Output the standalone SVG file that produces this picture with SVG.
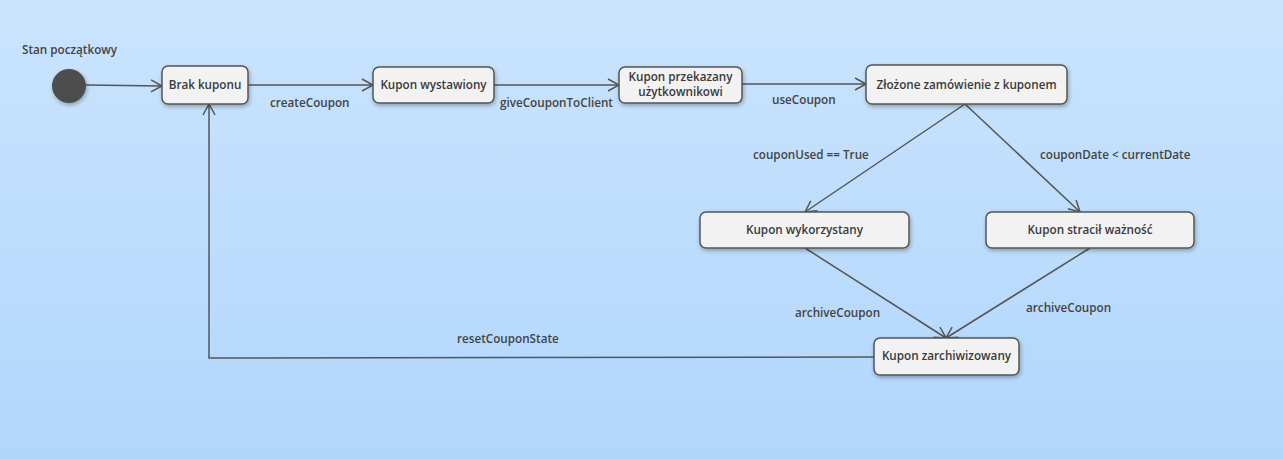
<svg xmlns="http://www.w3.org/2000/svg" width="1283" height="459" viewBox="0 0 1283 459">
<defs>
<linearGradient id="bg" x1="0" y1="0" x2="0" y2="1">
<stop offset="0" stop-color="#cae4fd"/>
<stop offset="1" stop-color="#b1d6fc"/>
</linearGradient>
<filter id="sh" x="-20%" y="-30%" width="140%" height="160%">
<feGaussianBlur in="SourceAlpha" stdDeviation="2"/>
<feOffset dx="1" dy="2" result="b"/>
<feComponentTransfer><feFuncA type="linear" slope="0.3"/></feComponentTransfer>
<feMerge><feMergeNode/><feMergeNode in="SourceGraphic"/></feMerge>
</filter>
<marker id="arr" markerWidth="14" markerHeight="14" refX="12" refY="7" orient="auto" markerUnits="userSpaceOnUse">
<path d="M1,1 L12,7 L1,13" fill="none" stroke="#555" stroke-width="1.5"/>
</marker>
</defs>
<style>
.node rect{fill:#f2f2f2;stroke:#555;stroke-width:1.5;filter:url(#sh)}
.t{font-family:"Open Sans","Noto Sans",sans-serif;font-size:11.7px;font-weight:600;fill:#3a3a3a;text-anchor:middle}
.lbl{font-family:"Open Sans","Noto Sans",sans-serif;font-size:11.7px;font-weight:600;fill:#444}
.edge{fill:none;stroke:#555;stroke-width:1.5;marker-end:url(#arr)}
</style>
<rect width="1283" height="459" fill="url(#bg)"/>
<g id="connectors">
<path class="edge" d="M86,85 L162,86"/>
<path class="edge" d="M248,85 L373,85"/>
<path class="edge" d="M494,85 L619,85"/>
<path class="edge" d="M742,84 L866,84"/>
<path class="edge" d="M965,104 L805,212"/>
<path class="edge" d="M965,104 L1080,212"/>
<path class="edge" d="M805,248 L946,338"/>
<path class="edge" d="M1090,248 L946,338"/>
<path class="edge" d="M874,357 L209,358 L209,104"/>
<text class="lbl" x="270" y="107">createCoupon</text>
<text class="lbl" x="500" y="107">giveCouponToClient</text>
<text class="lbl" x="772" y="104">useCoupon</text>
<text class="lbl" x="753" y="159">couponUsed == True</text>
<text class="lbl" x="1040" y="159">couponDate &lt; currentDate</text>
<text class="lbl" x="795" y="317">archiveCoupon</text>
<text class="lbl" x="1026" y="312">archiveCoupon</text>
<text class="lbl" x="457" y="343">resetCouponState</text>
</g>
<g id="start">
<text class="lbl" x="22" y="54">Stan początkowy</text>
<circle cx="69" cy="86" r="17" fill="#4d4d4d" filter="url(#sh)"/>
</g>
<g id="brak" class="node"><rect x="162" y="66" width="86" height="38" rx="6"/><text class="t" x="205" y="89">Brak kuponu</text></g>
<g id="wystawiony" class="node"><rect x="373" y="67" width="121" height="36" rx="6"/><text class="t" x="433.5" y="89">Kupon wystawiony</text></g>
<g id="przekazany" class="node"><rect x="619" y="67" width="123" height="36" rx="6"/><text class="t" x="680.5" y="81">Kupon przekazany</text><text class="t" x="680.5" y="96">użytkownikowi</text></g>
<g id="zlozone" class="node"><rect x="866" y="65" width="201" height="39" rx="6"/><text class="t" x="966.5" y="89">Złożone zamówienie z kuponem</text></g>
<g id="wykorzystany" class="node"><rect x="700" y="212" width="209" height="36" rx="6"/><text class="t" x="804.5" y="234">Kupon wykorzystany</text></g>
<g id="stracil" class="node"><rect x="986" y="212" width="208" height="36" rx="6"/><text class="t" x="1090" y="234">Kupon stracił ważność</text></g>
<g id="zarchiwizowany" class="node"><rect x="874" y="338" width="145" height="37" rx="6"/><text class="t" x="946.5" y="360">Kupon zarchiwizowany</text></g>
</svg>
